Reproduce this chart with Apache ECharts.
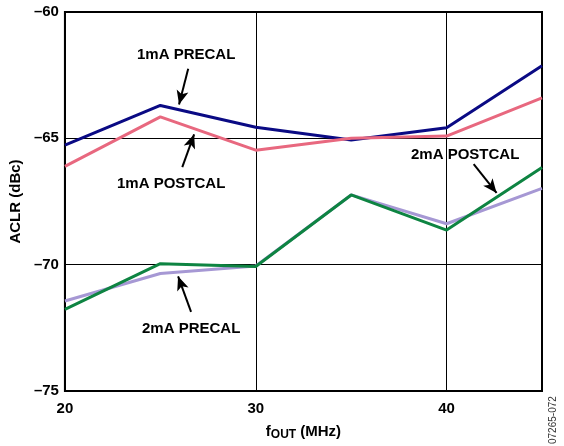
<!DOCTYPE html>
<html>
<head>
<meta charset="utf-8">
<script src="https://cdn.jsdelivr.net/npm/echarts@6/dist/echarts.min.js"></script>
<style>html,body{margin:0;padding:0;background:#fff}#c{width:564px;height:446px}</style>
</head>
<body>
<div id="c"></div>
<script>
var freqs = [20, 25, 30, 35, 40, 45];
var pre1mA  = [-65.27, -63.70, -64.56, -65.07, -64.58, -62.13];
var post1mA = [-66.11, -64.15, -65.47, -65.00, -64.91, -63.40];
var pre2mA  = [-71.44, -70.35, -70.05, -67.24, -68.38, -66.98];
var post2mA = [-71.77, -69.96, -70.07, -67.24, -68.63, -66.15];
var xTicks = [20, 30, 40];
var yTicks = [-75, -70, -65, -60];

function pts(ys){ return freqs.map(function(x,i){ return [x, ys[i]]; }); }

var font = 'Liberation Sans, Arial, sans-serif';
function arrow(from, to){
  return {
    silent: true, symbol: ['none','arrow'], symbolSize: [9, 14],
    lineStyle: {color:'#000', width: 2, type:'solid'},
    label: {show:false},
    data: [[{coord: from}, {coord: to}]]
  };
}
function lineSeries(name, data, color, ma){
  var s = {name:name, type:'line', data: pts(data), symbol:'none', silent:true,
    lineStyle:{color:color, width:3}, itemStyle:{color:color}, animation:false};
  if (ma) s.markLine = ma;
  return s;
}

var chart = echarts.init(document.getElementById('c'));
chart.setOption({
  animation: false,
  backgroundColor: '#fff',
  grid: {left: 64, right: 22, top: 12, bottom: 52, show: true, borderColor:'#000', borderWidth: 2},
  xAxis: {
    type: 'value', min: 20, max: 45, interval: 10,
    axisLine: {show:false}, axisTick:{show:false},
    splitLine: {show:true, lineStyle:{color:'#000', width:1}},
    axisLabel: {color:'#000', fontWeight:'bold', fontSize:15, fontFamily:font, margin:10, showMaxLabel:false,
      formatter: function(v){ return xTicks.indexOf(v) >= 0 ? String(v) : ''; }},
    name: '{f|f}{s|OUT}{f| (MHz)}', nameLocation:'middle', nameGap: 31,
    nameTextStyle: {rich: {
      f:{fontSize:15, fontWeight:'bold', fontFamily:font, color:'#000'},
      s:{fontSize:12, fontWeight:'bold', fontFamily:font, color:'#000', verticalAlign:'bottom', padding:[7,0,0,0]}
    }}
  },
  yAxis: {
    type: 'value', min: -75, max: -60, interval: 5,
    axisLine: {show:false}, axisTick:{show:false},
    splitLine: {show:true, lineStyle:{color:'#000', width:1}},
    axisLabel: {color:'#000', fontWeight:'bold', fontSize:15, fontFamily:font, margin:6,
      formatter: function(v){ return yTicks.indexOf(v) >= 0 ? String(v).replace('-', '\u2013') : ''; }},
    name: 'ACLR (dBc)', nameLocation:'middle', nameGap: 38, nameRotate: 90,
    nameTextStyle: {fontSize:15, fontWeight:'bold', fontFamily:font, color:'#000'}
  },
  series: [
    lineSeries('1mA PRECAL', pre1mA, '#0A0A84', arrow([26.46, -62.25], [25.98, -63.66])),
    lineSeries('1mA POSTCAL', post1mA, '#E8687F', arrow([26.15, -66.14], [26.77, -64.84])),
    lineSeries('2mA PRECAL', pre2mA, '#A698D4', arrow([26.61, -71.87], [25.93, -70.46])),
    lineSeries('2mA POSTCAL', post2mA, '#0E8442', arrow([41.42, -66.02], [42.62, -67.16]))
  ],
  graphic: [
    {type:'text', left:137, top:47, style:{text:'1mA PRECAL', font:'bold 15px '+font, fill:'#000'}},
    {type:'text', left:117, top:176, style:{text:'1mA POSTCAL', font:'bold 15px '+font, fill:'#000'}},
    {type:'text', left:411, top:147, style:{text:'2mA POSTCAL', font:'bold 15px '+font, fill:'#000'}},
    {type:'text', left:142, top:321, style:{text:'2mA PRECAL', font:'bold 15px '+font, fill:'#000'}},
    {type:'text', x:553, y:444, rotation: Math.PI/2, style:{text:'07265-072', font:'10px '+font, fill:'#333', align:'left', verticalAlign:'middle'}}
  ]
});
</script>
</body>
</html>
